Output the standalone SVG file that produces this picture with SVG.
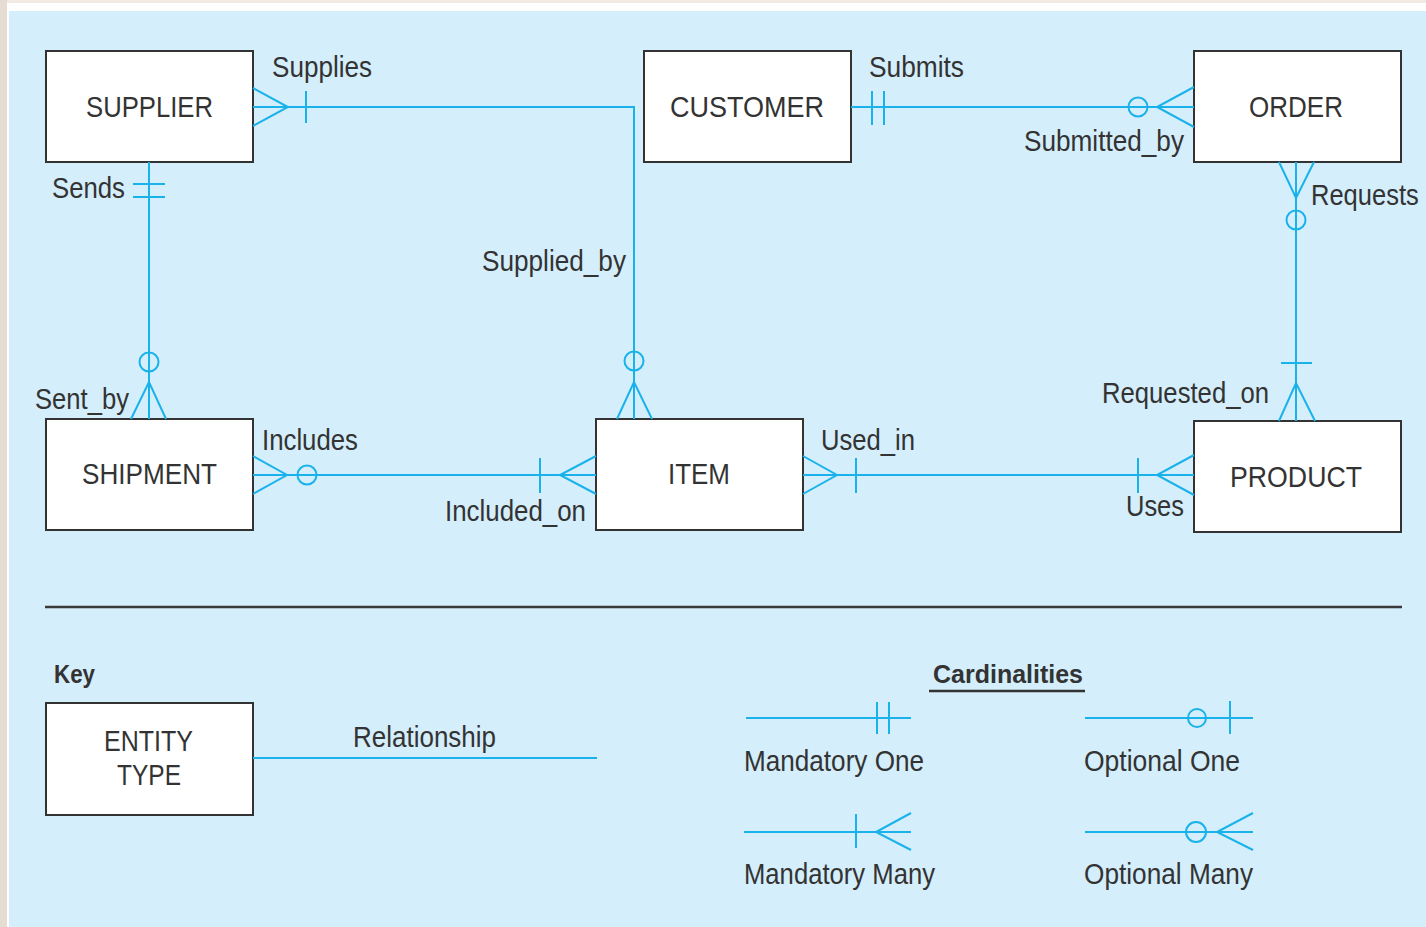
<svg xmlns="http://www.w3.org/2000/svg" width="1426" height="927" viewBox="0 0 1426 927">
<style>
.bg{fill:#d4eefb}
.box{fill:#ffffff;stroke:#333333;stroke-width:2}
.c{fill:none;stroke:#19b2ea;stroke-width:2}
.o{fill:none;stroke:#19b2ea;stroke-width:2}
.t{font-family:"Liberation Sans",Arial,sans-serif;font-size:29px;fill:#333333}
.e{font-family:"Liberation Sans",Arial,sans-serif;font-size:30px;fill:#333333}
.b{font-family:"Liberation Sans",Arial,sans-serif;font-size:26px;font-weight:bold;fill:#333333}
.sep{stroke:#3a3a3a;stroke-width:2.5}
</style>
<rect x="0" y="0" width="1426" height="927" fill="#ffffff"/>
<rect x="0" y="0" width="1426" height="3" fill="#f1e9e3"/>
<rect x="0" y="0" width="7" height="927" fill="#e6ddd2"/>
<rect class="bg" x="9" y="11" width="1417" height="916"/>

<g id="supplier"><rect class="box" x="46" y="51" width="207" height="111"/><text class="e" x="86" y="117" textLength="127" lengthAdjust="spacingAndGlyphs">SUPPLIER</text></g>
<g id="customer"><rect class="box" x="644" y="51" width="207" height="111"/><text class="e" x="670" y="117" textLength="154" lengthAdjust="spacingAndGlyphs">CUSTOMER</text></g>
<g id="order"><rect class="box" x="1194" y="51" width="207" height="111"/><text class="e" x="1249" y="117" textLength="94" lengthAdjust="spacingAndGlyphs">ORDER</text></g>
<g id="shipment"><rect class="box" x="46" y="419" width="207" height="111"/><text class="e" x="82" y="484" textLength="135" lengthAdjust="spacingAndGlyphs">SHIPMENT</text></g>
<g id="item"><rect class="box" x="596" y="419" width="207" height="111"/><text class="e" x="668" y="484" textLength="62" lengthAdjust="spacingAndGlyphs">ITEM</text></g>
<g id="product"><rect class="box" x="1194" y="421" width="207" height="111"/><text class="e" x="1230" y="487" textLength="132" lengthAdjust="spacingAndGlyphs">PRODUCT</text></g>

<g id="connectors">
<path class="c" d="M253,107 H634 V419"/>
<path class="c" d="M253,88 L288,107 L253,126"/>
<line class="c" x1="306" y1="91" x2="306" y2="123"/>
<circle class="o" cx="634" cy="361" r="9.5"/>
<path class="c" d="M617,419 L634,382 L652,419"/>
<line class="c" x1="149" y1="162" x2="149" y2="419"/>
<line class="c" x1="133" y1="184" x2="165" y2="184"/>
<line class="c" x1="133" y1="197" x2="165" y2="197"/>
<circle class="o" cx="149" cy="362" r="9.5"/>
<path class="c" d="M131,419 L149,382 L166,419"/>
<line class="c" x1="851" y1="107" x2="1194" y2="107"/>
<line class="c" x1="872" y1="91" x2="872" y2="125"/>
<line class="c" x1="884" y1="91" x2="884" y2="125"/>
<circle class="o" cx="1138" cy="107" r="9.5"/>
<path class="c" d="M1194,87 L1157,107 L1194,127"/>
<line class="c" x1="1296" y1="162" x2="1296" y2="421"/>
<path class="c" d="M1279,162 L1296,198 L1314,162"/>
<circle class="o" cx="1296" cy="220" r="9.5"/>
<line class="c" x1="1281" y1="363" x2="1312" y2="363"/>
<path class="c" d="M1279,421 L1296,383 L1315,421"/>
<line class="c" x1="253" y1="475" x2="596" y2="475"/>
<path class="c" d="M253,456 L287,475 L253,494"/>
<circle class="o" cx="307" cy="475" r="9.5"/>
<line class="c" x1="540" y1="458" x2="540" y2="493"/>
<path class="c" d="M596,456 L560,475 L596,494"/>
<line class="c" x1="803" y1="475" x2="1194" y2="475"/>
<path class="c" d="M803,456 L837,475 L803,494"/>
<line class="c" x1="856" y1="458" x2="856" y2="493"/>
<line class="c" x1="1138" y1="458" x2="1138" y2="493"/>
<path class="c" d="M1194,455 L1157,475 L1194,495"/>
</g>

<g id="labels">
<text class="t" x="272" y="77" textLength="100" lengthAdjust="spacingAndGlyphs">Supplies</text>
<text class="t" x="869" y="77" textLength="95" lengthAdjust="spacingAndGlyphs">Submits</text>
<text class="t" x="1024" y="151" textLength="160" lengthAdjust="spacingAndGlyphs">Submitted_by</text>
<text class="t" transform="translate(1311,205) scale(0.88,1)" x="0" y="0">Requests</text>
<text class="t" x="52" y="198" textLength="73" lengthAdjust="spacingAndGlyphs">Sends</text>
<text class="t" x="482" y="271" textLength="144" lengthAdjust="spacingAndGlyphs">Supplied_by</text>
<text class="t" x="35" y="409" textLength="94" lengthAdjust="spacingAndGlyphs">Sent_by</text>
<text class="t" x="1102" y="403" textLength="167" lengthAdjust="spacingAndGlyphs">Requested_on</text>
<text class="t" x="262" y="450" textLength="96" lengthAdjust="spacingAndGlyphs">Includes</text>
<text class="t" x="821" y="450" textLength="94" lengthAdjust="spacingAndGlyphs">Used_in</text>
<text class="t" x="445" y="521" textLength="141" lengthAdjust="spacingAndGlyphs">Included_on</text>
<text class="t" x="1126" y="516" textLength="58" lengthAdjust="spacingAndGlyphs">Uses</text>
</g>

<line class="sep" x1="45" y1="607" x2="1402" y2="607"/>

<g id="key">
<text class="b" x="54" y="683" textLength="41" lengthAdjust="spacingAndGlyphs">Key</text>
<g id="entity-type"><rect class="box" x="46" y="703" width="207" height="112"/>
<text class="e" x="104" y="751" textLength="89" lengthAdjust="spacingAndGlyphs">ENTITY</text>
<text class="e" x="117" y="785" textLength="64" lengthAdjust="spacingAndGlyphs">TYPE</text></g>
<line class="c" x1="253" y1="758" x2="597" y2="758" stroke-width="2.5"/>
<text class="t" x="353" y="747" textLength="143" lengthAdjust="spacingAndGlyphs">Relationship</text>
</g>

<g id="cardinalities">
<text class="b" x="933" y="683" textLength="150" lengthAdjust="spacingAndGlyphs">Cardinalities</text>
<line x1="929" y1="691" x2="1085" y2="691" stroke="#333333" stroke-width="2.5"/>
<line class="c" x1="746" y1="718" x2="911" y2="718"/>
<line class="c" x1="877" y1="702" x2="877" y2="734"/>
<line class="c" x1="889" y1="702" x2="889" y2="734"/>
<text class="t" x="744" y="771" textLength="180" lengthAdjust="spacingAndGlyphs">Mandatory One</text>
<line class="c" x1="1085" y1="718" x2="1253" y2="718"/>
<circle class="o" cx="1197" cy="718" r="9"/>
<line class="c" x1="1230" y1="701" x2="1230" y2="734"/>
<text class="t" x="1084" y="771" textLength="156" lengthAdjust="spacingAndGlyphs">Optional One</text>
<line class="c" x1="744" y1="832" x2="911" y2="832"/>
<line class="c" x1="856" y1="814" x2="856" y2="848"/>
<path class="c" d="M911,813 L876,832 L911,850"/>
<text class="t" x="744" y="884" textLength="191" lengthAdjust="spacingAndGlyphs">Mandatory Many</text>
<line class="c" x1="1085" y1="832" x2="1253" y2="832"/>
<circle class="o" cx="1196" cy="832" r="10"/>
<path class="c" d="M1253,813 L1217,832 L1253,850"/>
<text class="t" x="1084" y="884" textLength="169" lengthAdjust="spacingAndGlyphs">Optional Many</text>
</g>
</svg>
